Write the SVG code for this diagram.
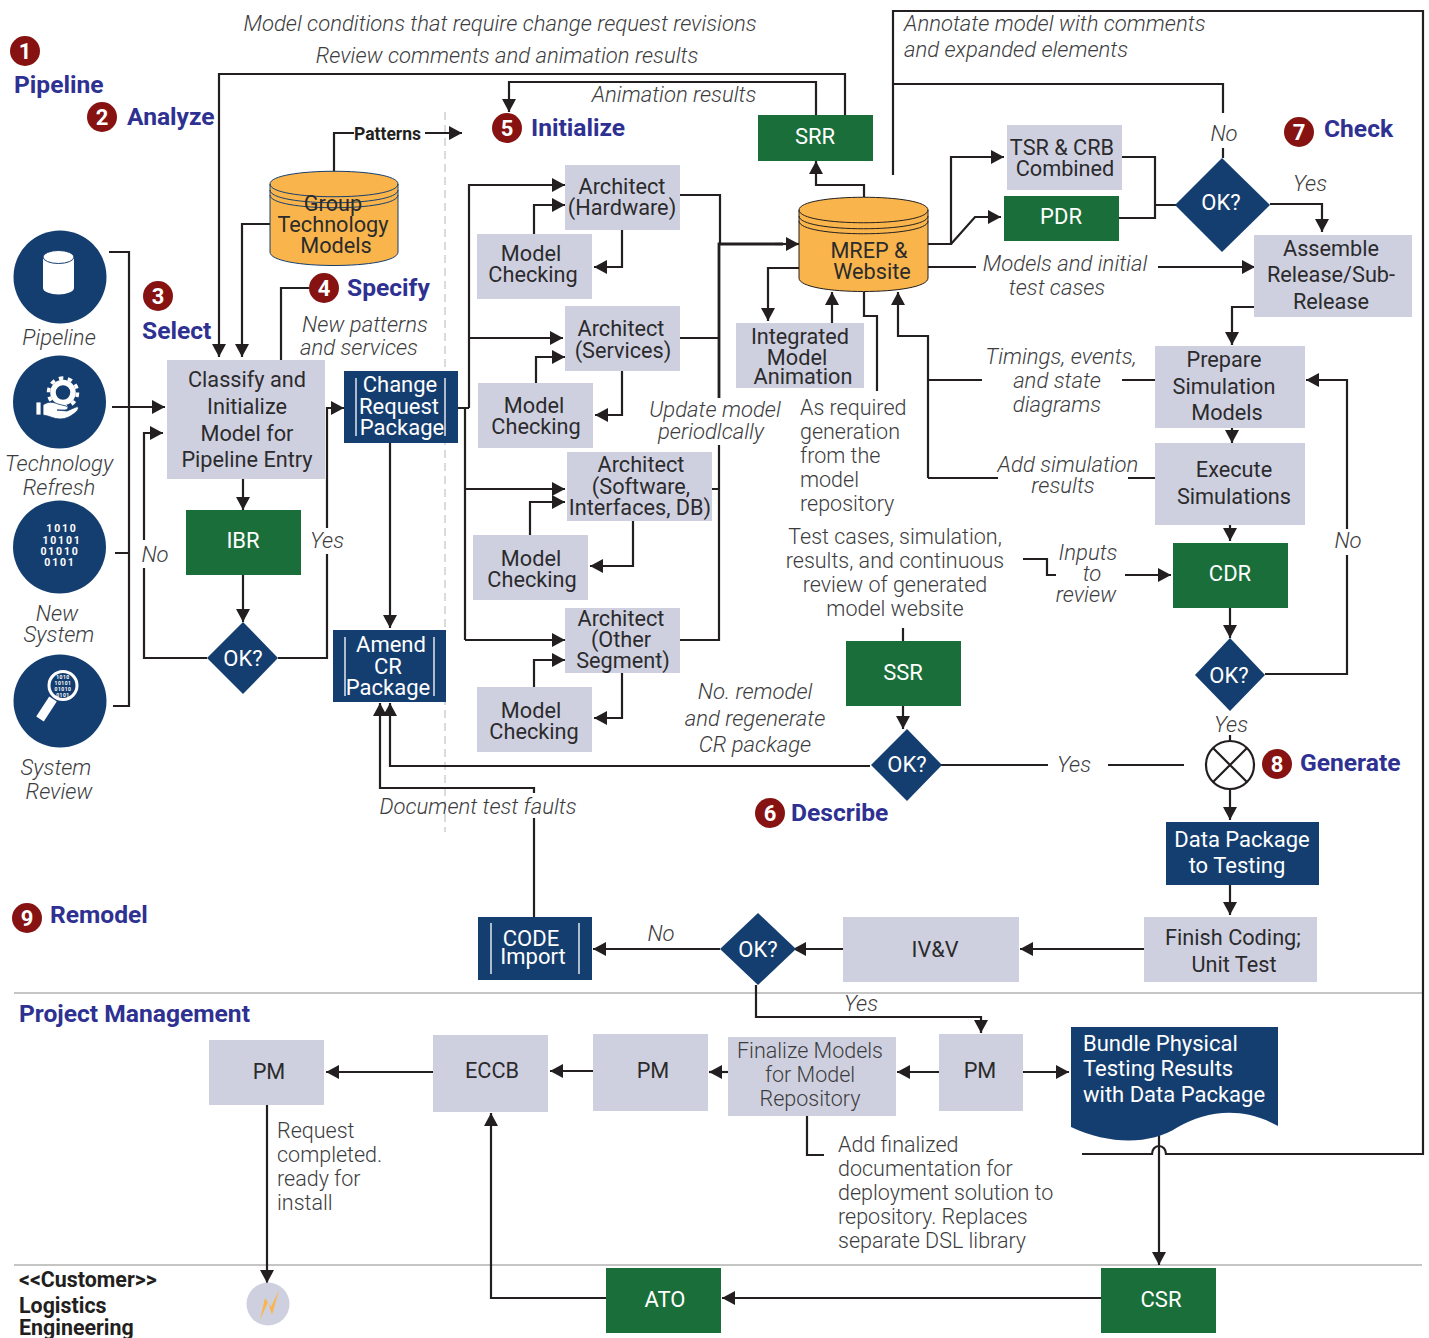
<svg xmlns="http://www.w3.org/2000/svg" width="1429" height="1338" viewBox="0 0 1429 1338">
<style>
text{font-family:Roboto,"Liberation Sans",sans-serif}
.n{font-size:21.7px;fill:#2b2b2d;text-anchor:middle}
.w{font-size:22px;fill:#fff;text-anchor:middle;font-weight:700}
.i{font-size:22.1px;font-style:italic;font-weight:300;fill:#3c3c3e;text-anchor:middle}
.f{font-size:21.5px;font-weight:300;fill:#3c3c3e;text-anchor:middle}
.l{font-size:21.5px;font-weight:300;fill:#3c3c3e}
.h{font-size:24.6px;font-weight:700;fill:#2e3192}
.b{font-size:22px;font-weight:400;fill:#fff;text-anchor:middle}
.bs{font-size:22px;font-weight:400;fill:#fff}
.k{font-size:21.4px;font-weight:700;fill:#231f20}
.g{fill:#cfd0df}.bl{fill:#153e70}.gr{fill:#1a6e3a}
.c{fill:none;stroke:#231f20;stroke-width:2.2}
.a{marker-end:url(#ar)}
.s{fill:none;stroke:#b3b3b3;stroke-width:1.5}
.v{fill:none;stroke:#fff;stroke-width:1.3}
.cyl{fill:#f9b54c;stroke:#153e70;stroke-width:1}
.rim{fill:none;stroke:#153e70;stroke-width:1}
.bd{fill:#861212}
.d{font-size:10.500px;font-weight:700;fill:#fff;text-anchor:middle;letter-spacing:1.800px}
.m{font-size:5px;font-weight:700;fill:#fff;text-anchor:middle;letter-spacing:.5px}
</style>
<defs>
<marker id="ar" markerUnits="userSpaceOnUse" markerWidth="15" markerHeight="15" refX="13" refY="7" orient="auto"><path d="M0 0L13 7L0 14Z" fill="#231f20"/></marker>
</defs>
<rect width="1429" height="1338" fill="#fff"/>
<g id="separators">
<path class="s" d="M14 993H1422M14 1265H1422"/>
<path d="M445 112V832" fill="none" stroke="#cfcfcf" stroke-width="1.5" stroke-dasharray="8 5"/>
</g>
<g id="connectors">
<path class="c" d="M893 175V11H1423V1154H1166a7 8 0 0 0-14 0H1082"/>
<path class="c" d="M893 84H1223V113M1223 148V158"/>
<path class="c a" d="M845 115V74H219V357"/>
<path class="c a" d="M816 115V82H509V112"/>
<path class="c" d="M334 178V133H354"/>
<path class="c a" d="M425 133H462"/>
<path class="c a" d="M270 224H242V357"/>
<path class="c" d="M309 288H281V360"/>
<path class="c" d="M109 252H129V706H113M115 553H129"/>
<path class="c a" d="M112 407H165"/>
<path class="c a" d="M207 658H144V433H163"/>
<path class="c a" d="M278 658H327V408H344"/>
<path class="c a" d="M243 479V510"/>
<path class="c a" d="M243 575V622"/>
<path class="c a" d="M390 443V628"/>
<path class="c" d="M458 408H469M465 408V640"/>
<path class="c a" d="M469 408V185H565"/>
<path class="c a" d="M469 338H563"/>
<path class="c a" d="M465 489H565"/>
<path class="c a" d="M465 640H565"/>
<path class="c a" d="M534 234V205H565"/>
<path class="c a" d="M622 230V267H594"/>
<path class="c a" d="M536 383V357H565"/>
<path class="c a" d="M622 371V415H595"/>
<path class="c a" d="M530 536V502H565"/>
<path class="c a" d="M633 521V566H590"/>
<path class="c a" d="M534 687V660H565"/>
<path class="c a" d="M622 673V718H594"/>
<path class="c" d="M680 195H720V244M680 338H719M712 489H719M680 640H719V445"/>
<path class="c" style="stroke-width:2.800" d="M719 398V244H783"/>
<path class="c a" d="M775 244H799"/>
<path class="c a" d="M864 197V185H816V161"/>
<path class="c a" d="M799 268H768V321"/>
<path class="c a" d="M832 323V292"/>
<path class="c" d="M864 292V316H877V391"/>
<path class="c a" d="M928 478V336H898V292"/>
<path class="c" d="M928 380H982M1122 380H1155M928 478H998M1128 478H1155"/>
<path class="c a" d="M928 244H951V157H1004"/>
<path class="c a" d="M951 244L975 217H1001"/>
<path class="c" d="M1122 157H1155V218H1119M1155 205H1176"/>
<path class="c" d="M928 267H976"/>
<path class="c a" d="M1158 267H1255"/>
<path class="c a" d="M1270 204H1322V232"/>
<path class="c a" d="M1254 307H1232V345"/>
<path class="c a" d="M1232 428V443"/>
<path class="c a" d="M1230 525V541"/>
<path class="c a" d="M1230 608V638"/>
<path class="c a" d="M1265 674H1347V380H1306"/>
<path class="c" d="M1230 735V741"/>
<path class="c a" d="M1230 789V820"/>
<path class="c a" d="M1230 885V915"/>
<path class="c a" d="M1144 949H1020"/>
<path class="c a" d="M843 949H793"/>
<path class="c a" d="M720 949H593"/>
<path class="c a" d="M756 985V1017H981V1033"/>
<path class="c" d="M534 917V818"/>
<path class="c a" d="M534 793V788H380V703"/>
<path class="c a" d="M870 766H390V703"/>
<path class="c a" d="M903 706V729"/>
<path class="c" d="M903 628V641"/>
<path class="c" d="M941 765H1048M1108 765H1184"/>
<path class="c" d="M1023 559H1047V575H1056"/>
<path class="c a" d="M1125 575H1171"/>
<path class="c a" d="M939 1072H897"/>
<path class="c a" d="M728 1072H709"/>
<path class="c a" d="M593 1071H550"/>
<path class="c a" d="M433 1072H326"/>
<path class="c a" d="M1023 1072H1069"/>
<path class="c a" d="M1159 1135V1265"/>
<path class="c a" d="M1101 1298H722"/>
<path class="c a" d="M606 1298H491V1113"/>
<path class="c a" d="M267 1105V1283"/>
<path class="c" d="M807 1116V1155H824"/>
</g>
<g id="badges">
<circle class="bd" cx="25" cy="51" r="15"/><text x="25" y="59" class="w">1</text>
<circle class="bd" cx="102" cy="117" r="15"/><text x="102" y="125" class="w">2</text>
<circle class="bd" cx="158" cy="296" r="15"/><text x="158" y="304" class="w">3</text>
<circle class="bd" cx="324" cy="288" r="15"/><text x="324" y="296" class="w">4</text>
<circle class="bd" cx="507" cy="128" r="15"/><text x="507" y="136" class="w">5</text>
<circle class="bd" cx="770" cy="813" r="15"/><text x="770" y="821" class="w">6</text>
<circle class="bd" cx="1299" cy="132" r="15"/><text x="1299" y="140" class="w">7</text>
<circle class="bd" cx="1277" cy="764" r="15"/><text x="1277" y="772" class="w">8</text>
<circle class="bd" cx="27" cy="918" r="15"/><text x="27" y="926" class="w">9</text>
<text class="h" x="14" y="93">Pipeline</text>
<text class="h" x="127" y="125">Analyze</text>
<text class="h" x="142" y="339">Select</text>
<text class="h" x="347" y="296">Specify</text>
<text class="h" x="531" y="136">Initialize</text>
<text class="h" x="1324" y="137">Check</text>
<text class="h" x="1300" y="771">Generate</text>
<text class="h" x="791" y="821">Describe</text>
<text class="h" x="50" y="923">Remodel</text>
<text class="h" x="19" y="1022">Project Management</text>
</g>
<g id="icon-pipeline"><circle class="bl" cx="60" cy="277" r="46.500"/>
<path d="M43 257V288a15.500 6.500 0 0 0 31 0V257Z" fill="#fff"/><ellipse cx="58.500" cy="257" rx="15.500" ry="6.500" fill="#fff" stroke="#153e70" stroke-width="1"/>
<text class="i" x="59" y="345">Pipeline</text></g>
<g id="icon-refresh"><circle class="bl" cx="59.500" cy="402" r="46.500"/>
<circle cx="63" cy="392.500" r="10" fill="none" stroke="#fff" stroke-width="5.500"/><circle cx="63" cy="392.500" r="14.500" fill="none" stroke="#fff" stroke-width="3.500" stroke-dasharray="4.500 4.600"/>
<path d="M36 402h5v13h-5ZM43 405C48 401 53 402 58 404L66 406C69 407 68 410 65 410L57 410L67 411L76 407C79 406 79 409 77 411C72 416 66 419 60 419C54 419 50 416 43 415Z" fill="#fff" stroke="#153e70" stroke-width=".8"/>
<text class="i" x="59" y="471">Technology</text><text class="i" x="59" y="495">Refresh</text></g>
<g id="icon-system"><circle class="bl" cx="59.500" cy="547" r="46.500"/>
<text class="d" x="62" y="532">1010</text><text class="d" x="62" y="544">10101</text><text class="d" x="60" y="555">01010</text><text class="d" x="60" y="566">0101</text>
<text class="i" x="57" y="621">New</text><text class="i" x="59" y="642">System</text></g>
<g id="icon-review"><circle class="bl" cx="60" cy="701" r="46.500"/>
<circle cx="63" cy="685.500" r="14" fill="#153e70" stroke="#fff" stroke-width="3"/>
<path d="M53 699L40 719" stroke="#fff" stroke-width="9" fill="none"/>
<text class="m" x="63" y="679">1010</text><text class="m" x="63" y="685">10101</text><text class="m" x="63" y="691">01010</text><text class="m" x="63" y="697">0101</text>
<text class="i" x="56" y="775">System</text><text class="i" x="59" y="799">Review</text></g>
<g id="group-tech">
<path class="cyl" d="M270 184C270 167 398 167 398 184V252C398 270 270 270 270 252Z"/>
<path class="rim" d="M270 184C270 201 398 201 398 184M270 190C270 207 398 207 398 190M270 195C270 212 398 212 398 195"/>
<text class="n" x="333" y="211">Group</text><text class="n" x="333" y="232">Technology</text><text class="n" x="336" y="253">Models</text>
</g>
<g id="classify"><rect class="g" x="167" y="360" width="158" height="119"/>
<text class="n" x="247" y="387">Classify and</text><text class="n" x="247" y="414">Initialize</text><text class="n" x="247" y="441">Model for</text><text class="n" x="247" y="467">Pipeline Entry</text></g>
<g id="change-request"><rect class="bl" x="344" y="371" width="114" height="72"/><path class="v" d="M356 378V436M445 378V436"/>
<text class="b" x="400" y="392">Change</text><text class="b" x="399" y="414">Request</text><text class="b" x="402" y="435">Package</text></g>
<g id="amend"><rect class="bl" x="333" y="630" width="113" height="72"/><path class="v" d="M345 637V696M434 637V696"/>
<text class="b" x="391" y="652">Amend</text><text class="b" x="388" y="674">CR</text><text class="b" x="388" y="695">Package</text></g>
<g id="ibr"><rect class="gr" x="186" y="510" width="115" height="65"/><text class="b" x="243" y="548">IBR</text></g>
<g id="ok1"><path class="bl" d="M243 622L278 658L243 694L207 658Z"/><text class="b" x="243" y="666">OK?</text></g>
<g id="arch-hw"><rect class="g" x="565" y="165" width="115" height="65"/><text class="n" x="622" y="194">Architect</text><text class="n" x="622" y="215">(Hardware)</text></g>
<g id="mc1"><rect class="g" x="477" y="234" width="115" height="65"/><text class="n" x="531" y="261">Model</text><text class="n" x="533" y="282">Checking</text></g>
<g id="arch-sv"><rect class="g" x="565" y="306" width="115" height="65"/><text class="n" x="621" y="336">Architect</text><text class="n" x="623" y="358">(Services)</text></g>
<g id="mc2"><rect class="g" x="478" y="383" width="115" height="65"/><text class="n" x="534" y="413">Model</text><text class="n" x="536" y="434">Checking</text></g>
<g id="arch-sw"><rect class="g" x="567" y="452" width="145" height="69"/><text class="n" x="641" y="472">Architect</text><text class="n" x="641" y="494">(Software,</text><text class="n" x="640" y="515">Interfaces, DB)</text></g>
<g id="mc3"><rect class="g" x="473" y="535" width="115" height="65"/><text class="n" x="531" y="566">Model</text><text class="n" x="532" y="587">Checking</text></g>
<g id="arch-ot"><rect class="g" x="565" y="608" width="115" height="65"/><text class="n" x="621" y="626">Architect</text><text class="n" x="621" y="647">(Other</text><text class="n" x="623" y="668">Segment)</text></g>
<g id="mc4"><rect class="g" x="477" y="687" width="115" height="65"/><text class="n" x="531" y="718">Model</text><text class="n" x="534" y="739">Checking</text></g>
<g id="srr"><rect class="gr" x="758" y="115" width="115" height="46"/><text class="b" x="815" y="144">SRR</text></g>
<g id="mrep">
<path d="M799 210C799 193 928 193 928 210V278C928 296 799 296 799 278Z" fill="#f9b54c" stroke="#231f20" stroke-width="1"/>
<path class="rim" style="stroke:#231f20" d="M799 210C799 227 928 227 928 210M799 216C799 233 928 233 928 216M799 221C799 238 928 238 928 221"/>
<text class="n" x="869" y="258">MREP &amp;</text><text class="n" x="872" y="279">Website</text></g>
<g id="iam"><rect class="g" x="736" y="323" width="128" height="65"/><text class="n" x="800" y="344">Integrated</text><text class="n" x="797" y="365">Model</text><text class="n" x="803" y="384">Animation</text></g>
<g id="tsr"><rect class="g" x="1007" y="125" width="115" height="65"/><text class="n" x="1062" y="155">TSR &amp; CRB</text><text class="n" x="1065" y="176">Combined</text></g>
<g id="pdr"><rect class="gr" x="1004" y="196" width="115" height="45"/><text class="b" x="1061" y="224">PDR</text></g>
<g id="ok2"><path class="bl" d="M1222 158L1270 205L1222 252L1175 205Z"/><text class="b" x="1221" y="210">OK?</text></g>
<g id="assemble"><rect class="g" x="1254" y="235" width="158" height="82"/><text class="n" x="1331" y="256">Assemble</text><text class="n" x="1331" y="282">Release/Sub-</text><text class="n" x="1331" y="309">Release</text></g>
<g id="prepare"><rect class="g" x="1155" y="346" width="150" height="82"/><text class="n" x="1224" y="367">Prepare</text><text class="n" x="1224" y="394">Simulation</text><text class="n" x="1227" y="420">Models</text></g>
<g id="execute"><rect class="g" x="1155" y="443" width="150" height="82"/><text class="n" x="1234" y="477">Execute</text><text class="n" x="1234" y="504">Simulations</text></g>
<g id="cdr"><rect class="gr" x="1173" y="543" width="115" height="65"/><text class="b" x="1230" y="581">CDR</text></g>
<g id="ok3"><path class="bl" d="M1230 638L1265 675L1230 711L1195 675Z"/><text class="b" x="1229" y="683">OK?</text></g>
<g id="ssr"><rect class="gr" x="846" y="641" width="115" height="65"/><text class="b" x="903" y="680">SSR</text></g>
<g id="ok4"><path class="bl" d="M907 729L942 765L907 801L871 765Z"/><text class="b" x="907" y="772">OK?</text></g>
<g id="generate"><circle cx="1230" cy="765" r="24" fill="#fff" stroke="#231f20" stroke-width="2.200"/><path d="M1213 748L1247 782M1247 748L1213 782" stroke="#231f20" stroke-width="2.200"/></g>
<g id="data-package"><rect class="bl" x="1166" y="822" width="153" height="63"/><text class="b" x="1242" y="847">Data Package</text><text class="b" x="1237" y="873">to Testing</text></g>
<g id="finish"><rect class="g" x="1144" y="917" width="173" height="65"/><text class="n" x="1233" y="945">Finish Coding;</text><text class="n" x="1234" y="972">Unit Test</text></g>
<g id="ivv"><rect class="g" x="843" y="917" width="176" height="65"/><text class="n" x="935" y="957">IV&amp;V</text></g>
<g id="ok5"><path class="bl" d="M758 913L796 949L758 985L720 949Z"/><text class="b" x="758" y="957">OK?</text></g>
<g id="code-import"><rect class="bl" x="478" y="917" width="114" height="63"/><path class="v" d="M491 923V974M579 923V974"/><text class="b" x="531" y="946">CODE</text><text class="b" x="533" y="964">Import</text></g>
<g id="pm1"><rect class="g" x="209" y="1040" width="115" height="65"/><text class="n" x="269" y="1079">PM</text></g>
<g id="eccb"><rect class="g" x="433" y="1035" width="115" height="77"/><text class="n" x="492" y="1078">ECCB</text></g>
<g id="pm2"><rect class="g" x="593" y="1034" width="115" height="77"/><text class="n" x="653" y="1078">PM</text></g>
<g id="finalize"><rect class="g" x="728" y="1037" width="168" height="79"/><text class="f" x="810" y="1058">Finalize Models</text><text class="f" x="810" y="1082">for Model</text><text class="f" x="810" y="1106">Repository</text></g>
<g id="pm3"><rect class="g" x="939" y="1034" width="84" height="77"/><text class="n" x="980" y="1078">PM</text></g>
<g id="bundle"><path class="bl" d="M1071 1027H1278V1126C1240 1105 1205 1112 1178 1127C1150 1145 1110 1145 1071 1127Z"/><text class="bs" x="1083" y="1051">Bundle Physical</text><text class="bs" x="1083" y="1076">Testing Results</text><text class="bs" x="1083" y="1102">with Data Package</text></g>
<g id="ato"><rect class="gr" x="606" y="1268" width="115" height="65"/><text class="b" x="665" y="1307">ATO</text></g>
<g id="csr"><rect class="gr" x="1101" y="1268" width="115" height="65"/><text class="b" x="1161" y="1307">CSR</text></g>
<g id="customer"><circle class="g" cx="268" cy="1304" r="21.500"/><path d="M279 1290L272 1315L268 1302L260 1320L265 1298L271 1307Z" fill="#f9b54c"/></g>
<g id="labels">
<text class="i" x="500" y="31">Model conditions that require change request revisions</text>
<text class="i" x="507" y="63">Review comments and animation results</text>
<text class="i" x="674" y="102">Animation results</text>
<text class="i" style="text-anchor:start" x="904" y="31">Annotate model with comments</text>
<text class="i" style="text-anchor:start" x="904" y="57">and expanded elements</text>
<text class="k" x="354" y="140" style="font-size:17.500px">Patterns</text>
<text class="i" x="365" y="332">New patterns</text><text class="i" x="359" y="355">and services</text>
<rect x="140" y="540" width="30" height="28" fill="#fff"/><text class="i" x="155" y="562">No</text>
<rect x="310" y="528" width="34" height="26" fill="#fff"/><text class="i" x="327" y="548">Yes</text>
<rect x="650" y="398" width="130" height="47" fill="#fff"/><text class="i" x="715" y="417">Update model</text><text class="i" x="711" y="439">periodlcally</text>
<text class="l" x="800" y="415">As required</text><text class="l" x="800" y="439">generation</text><text class="l" x="800" y="463">from the</text><text class="l" x="800" y="487">model</text><text class="l" x="800" y="511">repository</text>
<text class="i" x="1065" y="271">Models and initial</text><text class="i" x="1057" y="295">test cases</text>
<text class="i" x="1061" y="364">Timings, events,</text><text class="i" x="1057" y="388">and state</text><text class="i" x="1057" y="412">diagrams</text>
<text class="i" x="1068" y="472">Add simulation</text><text class="i" x="1063" y="493">results</text>
<text class="f" x="895" y="544">Test cases, simulation,</text><text class="f" x="895" y="568">results, and continuous</text><text class="f" x="895" y="592">review of generated</text><text class="f" x="895" y="616">model website</text>
<text class="i" x="1088" y="560">Inputs</text><text class="i" x="1092" y="581">to</text><text class="i" x="1086" y="602">review</text>
<text class="i" x="1224" y="141">No</text>
<text class="i" x="1310" y="191">Yes</text>
<rect x="1333" y="529" width="30" height="26" fill="#fff"/><text class="i" x="1348" y="548">No</text>
<text class="i" x="1231" y="732">Yes</text>
<text class="i" x="1074" y="772">Yes</text>
<text class="i" x="755" y="699">No. remodel</text><text class="i" x="755" y="726">and regenerate</text><text class="i" x="755" y="752">CR package</text>
<text class="i" x="478" y="814">Document test faults</text>
<text class="i" x="661" y="941">No</text>
<text class="i" x="861" y="1011">Yes</text>
<text class="l" x="277" y="1138">Request</text><text class="l" x="277" y="1162">completed.</text><text class="l" x="277" y="1186">ready for</text><text class="l" x="277" y="1210">install</text>
<text class="l" x="838" y="1152">Add finalized</text><text class="l" x="838" y="1176">documentation for</text><text class="l" x="838" y="1200">deployment solution to</text><text class="l" x="838" y="1224">repository. Replaces</text><text class="l" x="838" y="1248">separate DSL library</text>
<text class="k" x="19" y="1287">&lt;&lt;Customer&gt;&gt;</text><text class="k" x="19" y="1313">Logistics</text><text class="k" x="19" y="1335">Engineering</text>
</g>
</svg>
